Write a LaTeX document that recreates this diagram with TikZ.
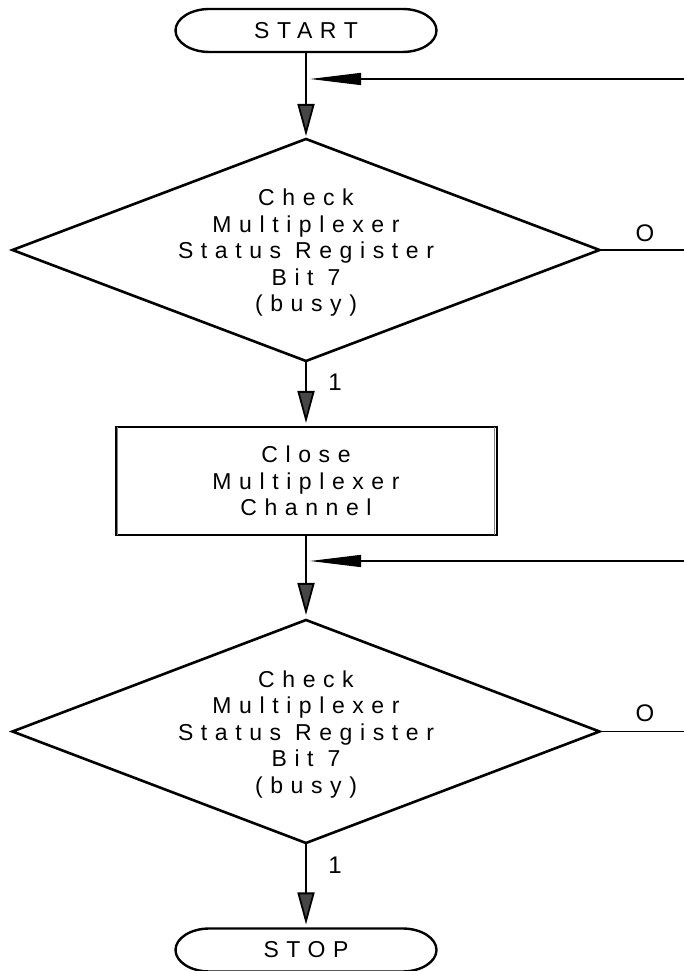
\documentclass[tikz,border=0pt]{standalone}
\usepackage{fontspec}
\setmainfont{Liberation Sans}
\newfontfamily\spfont[LetterSpace=33]{Liberation Sans}
\usetikzlibrary{shapes.geometric,arrows.meta}
\newcommand\drawoval[1]{%
  \draw[ovalline] ([xshift=34pt]#1.north west) -- ([xshift=-34pt]#1.north east)
    arc[start angle=90,end angle=-90,x radius=34pt,y radius=21.5pt]
    -- ([xshift=34pt]#1.south west)
    arc[start angle=270,end angle=90,x radius=34pt,y radius=21.5pt] -- cycle;}
\begin{document}
\begin{tikzpicture}[x=1pt,y=1pt,
  txt/.style={font=\spfont\fontsize{23}{26.5}\selectfont, align=center, inner sep=0},
  lbl/.style={font=\fontsize{24}{26}\selectfont, inner sep=0},
  termbox/.style={rectangle, minimum width=261, minimum height=43, inner sep=0, outer sep=0, txt},
  ovalline/.style={line width=2.4pt},
  decision/.style={diamond, draw, line width=2.6pt, minimum width=587, minimum height=222, inner sep=0, outer sep=0},
  procbox/.style={rectangle, draw, line width=2pt, minimum width=381, minimum height=108, outer sep=0, txt},
  flowline/.style={line width=1.8pt, -{Triangle[length=32pt,width=17pt,fill=gray!55!black]}},
  plainline/.style={line width=1.8pt},
  feed/.style={line width=1.4pt, -{Triangle[length=51pt,width=12pt,fill=black]}}
]
\fill[white] (0,0) rectangle (684,971);
\useasboundingbox (0,0) rectangle (684,971);

% nodes
\node[termbox] (start) at (306,940.5) {START};
\node[decision] (d1) at (306,721) {};
\node[txt] (d1t) at ([yshift=-3pt]d1.center) {Check\\Multiplexer\\Status Register\\Bit 7\\(busy)};
\node[procbox] (box) at (306,490) {Close\\Multiplexer\\Channel};
\node[decision, minimum height=223] (d2) at (306,239.5) {};
\node[txt] (d2t) at ([yshift=-3pt]d2.center) {Check\\Multiplexer\\Status Register\\Bit 7\\(busy)};
\node[termbox] (stop) at (306,21) {STOP};

\drawoval{start}
\drawoval{stop}

% double sides of the process box
\draw[gray, line width=1.2pt] ([xshift=2.2pt]box.north west) -- ([xshift=2.2pt]box.south west);
\draw[gray, line width=1.2pt] ([xshift=-2.2pt]box.north east) -- ([xshift=-2.2pt]box.south east);

% labels
\node[lbl] (o1) at (645,738) {O};
\node[lbl] (y1) at (335,589) {1};
\node[lbl] (o2) at (645,258) {O};
\node[lbl] (y2) at (335,106) {1};

% coordinates for free ends
\coordinate (f1) at (684,892);
\coordinate (j1) at (306,892);
\coordinate (f2) at (684,410);
\coordinate (j2) at (306,410);
\coordinate (e1) at (684,721);
\coordinate (e2) at (684,239.5);

% connectors
\draw[flowline, shorten >=3pt] (start.south) -- (d1.north);
\draw[feed, shorten >=4pt] (f1) -- (j1);
\draw[plainline] (d1.east) -- (e1);
\draw[flowline, shorten >=4pt] (d1.south) -- (box.north);
\draw[flowline, shorten >=5pt] (box.south) -- (d2.north);
\draw[feed, shorten >=4pt] (f2) -- (j2);
\draw[plainline] (d2.east) -- (e2);
\draw[flowline, shorten >=4pt] (d2.south) -- (stop.north);
\end{tikzpicture}
\end{document}
